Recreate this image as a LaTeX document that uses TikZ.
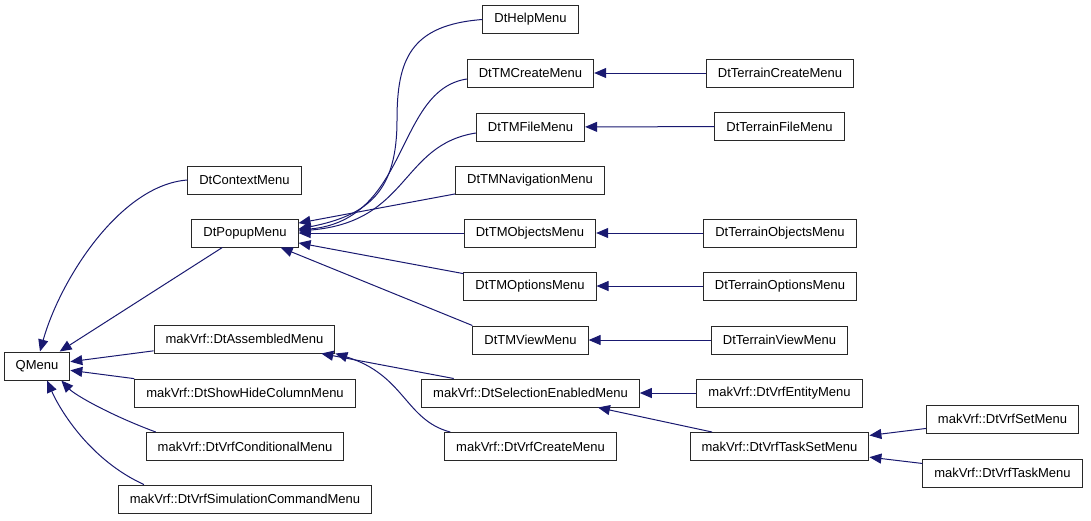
\documentclass[tikz,border=0pt]{standalone}
\usepackage{fontspec}
\setmainfont{Liberation Sans}
\usepackage{tikz}
\usetikzlibrary{arrows.meta}
\definecolor{edgeblue}{RGB}{25,25,112}
\definecolor{boxline}{RGB}{40,40,40}

\begin{document}
\begin{tikzpicture}[x=1pt,y=-1pt,font=\fontsize{13}{15}\selectfont,
  cls/.style={draw=boxline,line width=1pt,fill=white,inner xsep=11.5pt,inner ysep=0pt,minimum height=28pt},
  inh/.style={draw=edgeblue,line width=1pt,-{Triangle[length=12pt,width=10pt]}}]
\useasboundingbox (0,0) rectangle (1091,520);
% left column
\node[cls] (qm) at (37,366) {QMenu};
\node[cls] (ctx) at (244.5,180) {DtContextMenu};
\node[cls] (popup) at (245,233) {DtPopupMenu};
\node[cls] (asm) at (244.5,339) {makVrf::DtAssembledMenu};
\node[cls] (showhide) at (245,393) {makVrf::DtShowHideColumnMenu};
\node[cls] (cond) at (245,446.5) {makVrf::DtVrfConditionalMenu};
\node[cls] (simcmd) at (245,499) {makVrf::DtVrfSimulationCommandMenu};
% middle column
\node[cls] (help) at (530.5,19.5) {DtHelpMenu};
\node[cls] (tmcreate) at (530.5,73) {DtTMCreateMenu};
\node[cls] (tmfile) at (530.5,127) {DtTMFileMenu};
\node[cls] (tmnav) at (530,180) {DtTMNavigationMenu};
\node[cls] (tmobjects) at (530,233) {DtTMObjectsMenu};
\node[cls] (tmoptions) at (530,286) {DtTMOptionsMenu};
\node[cls] (tmview) at (530.5,340) {DtTMViewMenu};
\node[cls] (selection) at (530.5,393) {makVrf::DtSelectionEnabledMenu};
\node[cls] (vrfcreate) at (530.5,446.5) {makVrf::DtVrfCreateMenu};
% right columns
\node[cls] (trcreate) at (780,73) {DtTerrainCreateMenu};
\node[cls] (trfile) at (779.5,126.5) {DtTerrainFileMenu};
\node[cls] (trobjects) at (780,233) {DtTerrainObjectsMenu};
\node[cls] (troptions) at (780,286) {DtTerrainOptionsMenu};
\node[cls] (trview) at (779.5,340) {DtTerrainViewMenu};
\node[cls] (vrfentity) at (779.5,393) {makVrf::DtVrfEntityMenu};
\node[cls] (taskset) at (779.5,446.5) {makVrf::DtVrfTaskSetMenu};
\node[cls] (setmenu) at (1002.5,419) {makVrf::DtVrfSetMenu};
\node[cls] (taskmenu) at (1002.5,473) {makVrf::DtVrfTaskMenu};
% inheritance edges
\draw[inh] (ctx.west) .. controls (120,185) and (60,280) .. ([xshift=3pt]qm.north);
\draw[inh] (popup) -- (qm);
\draw[inh] (asm) -- (qm);
\draw[inh] (showhide) -- (qm);
\draw[inh] ([xshift=10pt]cond.north west) .. controls (110,415) and (75,395) .. ([xshift=-9pt]qm.south east);
\draw[inh] ([xshift=26pt]simcmd.north west) .. controls (90,460) and (60,410) .. ([xshift=10pt]qm.south);
\draw[inh] (help.west) .. controls (410,25) and (397,60) .. (397,120) .. controls (397,190) and (370,215) .. ([yshift=4pt]popup.east);
\draw[inh] ([yshift=-6pt]tmcreate.west) .. controls (395,90) and (410,220) .. ([yshift=3pt]popup.east);
\draw[inh] ([yshift=-6pt]tmfile.west) .. controls (400,145) and (410,222) .. ([yshift=2pt]popup.east);
\draw[inh] (tmnav) -- (popup);
\draw[inh] (tmobjects) -- (popup);
\draw[inh] (tmoptions) -- (popup);
\draw[inh] (tmview.north west) -- (popup);
\draw[inh] (trcreate) -- (tmcreate);
\draw[inh] (trfile) -- (tmfile);
\draw[inh] (trobjects) -- (tmobjects);
\draw[inh] (troptions) -- (tmoptions);
\draw[inh] (trview) -- (tmview);
\draw[inh] (selection) -- (asm);
\draw[inh] ([xshift=6pt]vrfcreate.north west) .. controls (405,420) and (405,375) .. (asm.south east);
\draw[inh] (vrfentity) -- (selection);
\draw[inh] (taskset) -- (selection);
\draw[inh] (setmenu) -- (taskset);
\draw[inh] (taskmenu) -- (taskset);
\end{tikzpicture}
\end{document}
